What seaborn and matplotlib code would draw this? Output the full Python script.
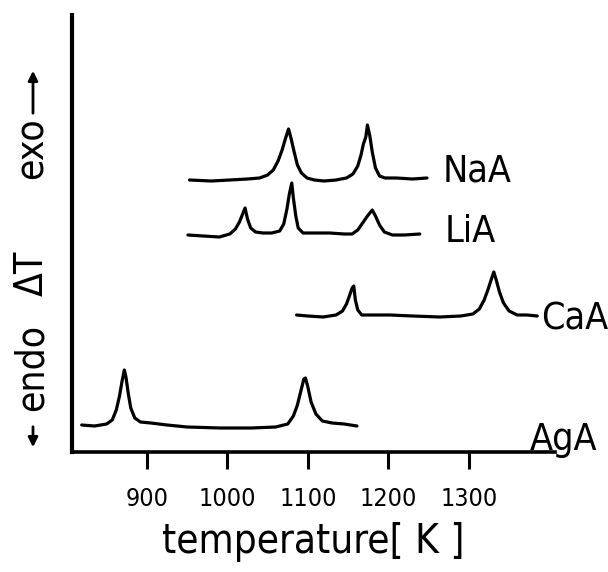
import matplotlib
matplotlib.use('Agg')
import numpy as np
import pandas as pd
import matplotlib.pyplot as plt
import seaborn as sns
from matplotlib.patches import FancyArrowPatch

# DTA curves: temperature [K] vs. Delta T (arbitrary units, offset per sample)
naa_t = [953, 980, 1003, 1025, 1040, 1050, 1057, 1063, 1068, 1072, 1076, 1079, 1083, 1087, 1092, 1099, 1108, 1120,
         1135, 1148, 1156, 1162, 1166, 1169, 1172, 1174, 1177, 1180, 1184, 1189, 1196, 1210, 1230, 1248]
naa_dt = [272, 271, 272, 273, 274, 277, 282, 291, 302, 313, 323, 314, 300, 287, 279, 274, 272, 271,
          272, 274, 278, 286, 297, 308, 315, 327, 316, 300, 284, 276, 274, 274, 273, 274]

lia_t = [951, 970, 990, 1003, 1010, 1015, 1019, 1022, 1025, 1029, 1035, 1044, 1055, 1065, 1070, 1074, 1077, 1080,
         1082, 1085, 1088, 1094, 1110, 1127, 1145, 1155, 1162, 1168, 1174, 1180, 1184, 1189, 1195, 1205, 1220, 1239]
lia_dt = [217, 216, 215, 218, 223, 230, 238, 244, 233, 224, 220, 219, 219, 221, 228, 243, 258, 269,
          254, 236, 224, 219, 219, 219, 218, 218, 222, 229, 236, 242, 236, 227, 220, 217, 217, 218]

caa_t = [1086, 1100, 1119, 1135, 1143, 1148, 1152, 1155, 1157, 1159, 1162, 1167, 1180, 1202, 1230, 1264, 1290, 1305,
         1313, 1319, 1324, 1328, 1331, 1334, 1338, 1343, 1350, 1360, 1372, 1385]
caa_dt = [137, 136, 135, 137, 141, 148, 157, 164, 166, 152, 142, 137, 137, 137, 136, 135, 136, 138,
          143, 152, 163, 173, 180, 172, 160, 149, 141, 137, 137, 136]

aga_t = [819, 835, 850, 857, 862, 866, 869, 872, 874, 877, 880, 885, 892, 905, 925, 950, 991, 1030, 1060, 1075,
         1082, 1087, 1091, 1095, 1097, 1100, 1104, 1110, 1118, 1130, 1145, 1161]
aga_dt = [27, 26, 28, 32, 42, 56, 70, 82, 75, 58, 44, 34, 30, 29, 27, 25, 24, 24, 25, 28,
          36, 47, 60, 73, 74, 65, 50, 38, 31, 29, 28, 26]

samples = ['NaA', 'LiA', 'CaA', 'AgA']
label_x = [1267, 1270, 1390, 1376]
label_y = [280, 220, 132, 12]
x_ticks = [900, 1000, 1100, 1200, 1300]

frames = []
for name, t, dt in zip(samples, [naa_t, lia_t, caa_t, aga_t], [naa_dt, lia_dt, caa_dt, aga_dt]):
    frames.append(pd.DataFrame({'T': t, 'dT': dt, 'sample': name}))
df = pd.concat(frames, ignore_index=True)

sns.set_style("ticks")
plt.rcParams['font.family'] = ['DejaVu Sans']
plt.rcParams['font.stretch'] = 'condensed'
plt.rcParams['text.color'] = 'black'
plt.rcParams['axes.labelcolor'] = 'black'

W, H = 608, 572
fig = plt.figure(figsize=(W / 100, H / 100), dpi=100)
ax = fig.add_axes([72 / W, 1 - 452 / H, (555 - 72) / W, (452 - 15) / H])

for name in samples:
    sns.lineplot(data=df[df['sample'] == name], x='T', y='dT', color='black',
                 linewidth=2.3, sort=False, estimator=None, ax=ax)

for name, lx, ly in zip(samples, label_x, label_y):
    ax.text(lx, ly, name, fontsize=27, ha='left', va='center', clip_on=False)

ax.set_xlim(807, 1407)
ax.set_ylim(0, 437)
ax.set_xticks(x_ticks)
ax.set_xticklabels([str(v) for v in x_ticks], fontsize=18)
ax.set_yticks([])
ax.tick_params(axis='x', direction='out', length=12, width=2.2, pad=13, colors='black')
ax.set_xlabel('temperature[ K ]', fontsize=29, labelpad=8)
ax.set_ylabel('')
sns.despine(ax=ax)
ax.spines['left'].set_linewidth(3)
ax.spines['bottom'].set_linewidth(2.6)
ax.spines['left'].set_color('black')
ax.spines['bottom'].set_color('black')


def fx(px):
    return px / W


def fy(py):
    return 1 - py / H


# rotated y label pieces with arrows
fig.text(fx(32), fy(148), 'exo', rotation=90, fontsize=28, ha='center', va='center')
fig.text(fx(32), fy(273), 'ΔT', rotation=90, fontsize=28, ha='center', va='center')
fig.text(fx(32), fy(367), 'endo', rotation=90, fontsize=28, ha='center', va='center')
fig.add_artist(FancyArrowPatch((fx(33), fy(116)), (fx(33), fy(68)), transform=fig.transFigure,
                               arrowstyle='-|>', mutation_scale=14, lw=2, color='black'))
fig.add_artist(FancyArrowPatch((fx(33), fy(424)), (fx(33), fy(450)), transform=fig.transFigure,
                               arrowstyle='-|>', mutation_scale=14, lw=2, color='black'))

fig.savefig('out.png', dpi=100, facecolor='white')
